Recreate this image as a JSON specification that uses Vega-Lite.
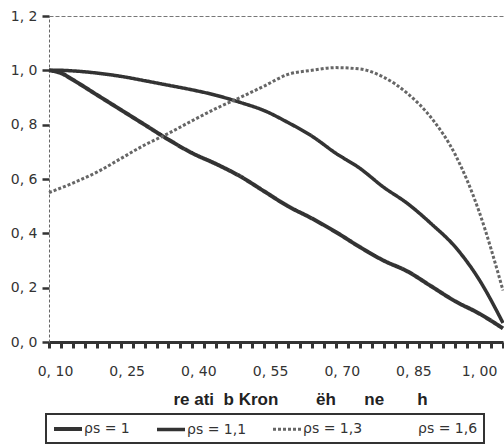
{
  "$schema": "https://vega.github.io/schema/vega-lite/v6.json",
  "width": 454,
  "height": 326,
  "autosize": {"type": "none"},
  "padding": {"left": 49, "top": 16, "right": 1, "bottom": 102},
  "background": "white",
  "config": {"view": {"stroke": null}},
  "data": {"values": [
    {"x": 0.1, "v": 1.0, "s": "ρs = 1"},
    {"x": 0.125, "v": 0.99, "s": "ρs = 1"},
    {"x": 0.15, "v": 0.965, "s": "ρs = 1"},
    {"x": 0.2, "v": 0.91, "s": "ρs = 1"},
    {"x": 0.25, "v": 0.855, "s": "ρs = 1"},
    {"x": 0.3, "v": 0.8, "s": "ρs = 1"},
    {"x": 0.35, "v": 0.745, "s": "ρs = 1"},
    {"x": 0.4, "v": 0.695, "s": "ρs = 1"},
    {"x": 0.45, "v": 0.655, "s": "ρs = 1"},
    {"x": 0.5, "v": 0.61, "s": "ρs = 1"},
    {"x": 0.55, "v": 0.555, "s": "ρs = 1"},
    {"x": 0.6, "v": 0.5, "s": "ρs = 1"},
    {"x": 0.65, "v": 0.455, "s": "ρs = 1"},
    {"x": 0.7, "v": 0.405, "s": "ρs = 1"},
    {"x": 0.75, "v": 0.35, "s": "ρs = 1"},
    {"x": 0.8, "v": 0.3, "s": "ρs = 1"},
    {"x": 0.85, "v": 0.26, "s": "ρs = 1"},
    {"x": 0.9, "v": 0.205, "s": "ρs = 1"},
    {"x": 0.95, "v": 0.15, "s": "ρs = 1"},
    {"x": 1.0, "v": 0.105, "s": "ρs = 1"},
    {"x": 1.05, "v": 0.05, "s": "ρs = 1"},
    {"x": 0.1, "v": 1.0, "s": "ρs = 1,1"},
    {"x": 0.125, "v": 1.0, "s": "ρs = 1,1"},
    {"x": 0.15, "v": 0.998, "s": "ρs = 1,1"},
    {"x": 0.2, "v": 0.99, "s": "ρs = 1,1"},
    {"x": 0.25, "v": 0.978, "s": "ρs = 1,1"},
    {"x": 0.3, "v": 0.962, "s": "ρs = 1,1"},
    {"x": 0.35, "v": 0.945, "s": "ρs = 1,1"},
    {"x": 0.4, "v": 0.928, "s": "ρs = 1,1"},
    {"x": 0.45, "v": 0.908, "s": "ρs = 1,1"},
    {"x": 0.5, "v": 0.882, "s": "ρs = 1,1"},
    {"x": 0.55, "v": 0.852, "s": "ρs = 1,1"},
    {"x": 0.6, "v": 0.808, "s": "ρs = 1,1"},
    {"x": 0.65, "v": 0.758, "s": "ρs = 1,1"},
    {"x": 0.7, "v": 0.695, "s": "ρs = 1,1"},
    {"x": 0.75, "v": 0.64, "s": "ρs = 1,1"},
    {"x": 0.8, "v": 0.57, "s": "ρs = 1,1"},
    {"x": 0.85, "v": 0.51, "s": "ρs = 1,1"},
    {"x": 0.9, "v": 0.435, "s": "ρs = 1,1"},
    {"x": 0.95, "v": 0.35, "s": "ρs = 1,1"},
    {"x": 1.0, "v": 0.23, "s": "ρs = 1,1"},
    {"x": 1.05, "v": 0.07, "s": "ρs = 1,1"},
    {"x": 0.1, "v": 0.55, "s": "ρs = 1,3"},
    {"x": 0.15, "v": 0.585, "s": "ρs = 1,3"},
    {"x": 0.2, "v": 0.625, "s": "ρs = 1,3"},
    {"x": 0.25, "v": 0.675, "s": "ρs = 1,3"},
    {"x": 0.3, "v": 0.725, "s": "ρs = 1,3"},
    {"x": 0.35, "v": 0.768, "s": "ρs = 1,3"},
    {"x": 0.4, "v": 0.815, "s": "ρs = 1,3"},
    {"x": 0.45, "v": 0.86, "s": "ρs = 1,3"},
    {"x": 0.5, "v": 0.9, "s": "ρs = 1,3"},
    {"x": 0.55, "v": 0.942, "s": "ρs = 1,3"},
    {"x": 0.6, "v": 0.985, "s": "ρs = 1,3"},
    {"x": 0.65, "v": 1.0, "s": "ρs = 1,3"},
    {"x": 0.7, "v": 1.01, "s": "ρs = 1,3"},
    {"x": 0.75, "v": 1.005, "s": "ρs = 1,3"},
    {"x": 0.8, "v": 0.975, "s": "ρs = 1,3"},
    {"x": 0.85, "v": 0.915, "s": "ρs = 1,3"},
    {"x": 0.9, "v": 0.825, "s": "ρs = 1,3"},
    {"x": 0.95, "v": 0.69, "s": "ρs = 1,3"},
    {"x": 1.0, "v": 0.48, "s": "ρs = 1,3"},
    {"x": 1.05, "v": 0.19, "s": "ρs = 1,3"}
  ]},
  "mark": {"type": "line", "interpolate": "monotone"},
  "encoding": {
    "x": {
      "field": "x", "type": "quantitative",
      "scale": {"domain": [0.1, 1.05], "nice": false, "zero": false},
      "axis": {
        "values": [0.1,0.125,0.15,0.175,0.2,0.225,0.25,0.275,0.3,0.325,0.35,0.375,0.4,0.425,0.45,0.475,0.5,0.525,0.55,0.575,0.6,0.625,0.65,0.675,0.7,0.725,0.75,0.775,0.8,0.825,0.85,0.875,0.9,0.925,0.95,0.975,1.0,1.025,1.05],
        "labelExpr": "(round(datum.value*1000)-100) % 150 == 0 ? replace(format(datum.value, '.2f'), '.', ', ') : ''",
        "labelFlush": false, "labelOverlap": false, "labelBound": false,
        "labelOffset": {"condition": {"test": "datum.value > 0.99", "value": 0}, "value": 6},
        "labelFont": "DejaVu Sans", "labelFontSize": 14, "labelColor": "#333",
        "labelPadding": 16,
        "domainColor": "#333", "domainWidth": 3,
        "tickColor": "#333", "tickWidth": 3, "tickSize": 6,
        "grid": false,
        "title": "re ati\u00a0\u00a0b Kron\u00a0\u00a0\u00a0\u00a0\u00a0\u00a0\u00a0\u00a0ëh\u00a0\u00a0\u00a0\u00a0\u00a0\u00a0ne\u00a0\u00a0\u00a0\u00a0\u00a0\u00a0\u00a0h",
        "titleFont": "Liberation Sans", "titleFontSize": 17, "titleFontWeight": "bold", "titleColor": "#222",
        "titleX": 251, "titleY": 62, "titleAlign": "center", "titleBaseline": "alphabetic", "titleAnchor": null
      }
    },
    "y": {
      "field": "v", "type": "quantitative",
      "scale": {"domain": [0, 1.2], "nice": false},
      "axis": {
        "values": [0, 0.2, 0.4, 0.6, 0.8, 1.0, 1.2],
        "labelExpr": "replace(format(datum.value, '.1f'), '.', ', ')",
        "labelFont": "DejaVu Sans", "labelFontSize": 14, "labelColor": "#333",
        "labelPadding": 5,
        "domainColor": "#666", "domainWidth": 1, "domainDash": [3, 2],
        "tickColor": "#333", "tickWidth": 2.5, "tickSize": 7,
        "grid": true, "gridColor": "#777", "gridDash": [4, 2], "gridWidth": 1,
        "gridOpacity": {"condition": {"test": "datum.value > 1.1", "value": 1}, "value": 0},
        "title": null
      }
    },
    "color": {
      "field": "s", "type": "nominal",
      "scale": {"domain": ["ρs = 1", "ρs = 1,1", "ρs = 1,3", "ρs = 1,6"], "range": ["#333333", "#333333", "#666666", "#ffffff"]},
      "legend": {
        "title": null, "orient": "none", "legendX": -3, "legendY": 398,
        "direction": "horizontal", "columns": 4,
        "symbolType": "M-1,0H3", "symbolSize": 196,
        "labelOffset": 14, "columnPadding": 20,
        "labelFont": "DejaVu Sans", "labelFontSize": 14, "labelColor": "#333", "labelLimit": 200,
        "padding": 6, "strokeColor": "#333", "fillColor": "white",
        "encode": {"legend": {"update": {"strokeWidth": {"value": 2}}}}
      }
    },
    "strokeWidth": {
      "field": "s", "type": "nominal",
      "scale": {"domain": ["ρs = 1", "ρs = 1,1", "ρs = 1,3", "ρs = 1,6"], "range": [4, 2.5, 1, 0]},
      "legend": {
        "title": null, "orient": "none", "legendX": -3, "legendY": 398,
        "direction": "horizontal", "columns": 4,
        "symbolType": "M-1,0H3", "symbolSize": 196,
        "labelOffset": 14, "columnPadding": 20,
        "labelFont": "DejaVu Sans", "labelFontSize": 14, "labelColor": "#333", "labelLimit": 200,
        "padding": 6, "strokeColor": "#333", "fillColor": "white",
        "encode": {"legend": {"update": {"strokeWidth": {"value": 2}}}}
      }
    },
    "strokeDash": {
      "field": "s", "type": "nominal",
      "scale": {"domain": ["ρs = 1", "ρs = 1,1", "ρs = 1,3", "ρs = 1,6"], "range": [[1, 0], [1, 0], [3, 2], [1, 0]]},
      "legend": {
        "title": null, "orient": "none", "legendX": -3, "legendY": 398,
        "direction": "horizontal", "columns": 4,
        "symbolType": "M-1,0H3", "symbolSize": 196,
        "labelOffset": 14, "columnPadding": 20,
        "labelFont": "DejaVu Sans", "labelFontSize": 14, "labelColor": "#333", "labelLimit": 200,
        "padding": 6, "strokeColor": "#333", "fillColor": "white",
        "encode": {"legend": {"update": {"strokeWidth": {"value": 2}}}}
      }
    }
  }
}
